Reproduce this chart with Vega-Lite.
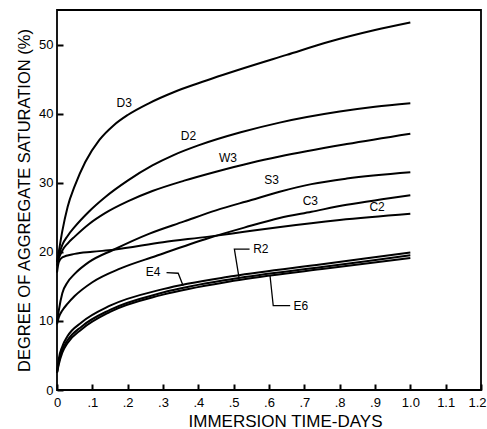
{
  "$schema": "https://vega.github.io/schema/vega-lite/v6.json",
  "width": 424,
  "height": 380,
  "autosize": {"type": "none"},
  "padding": {"left": 57, "top": 10, "right": 6, "bottom": 39},
  "background": "white",
  "config": {
    "view": {"stroke": "black", "strokeWidth": 1.8},
    "font": "Liberation Sans"
  },
  "datasets": {
    "curves": [
      {"s": "D3", "t": 0, "v": 18.5}, {"s": "D3", "t": 0.005, "v": 20}, {"s": "D3", "t": 0.015, "v": 23}, {"s": "D3", "t": 0.03, "v": 26.5}, {"s": "D3", "t": 0.05, "v": 29.5}, {"s": "D3", "t": 0.08, "v": 33}, {"s": "D3", "t": 0.12, "v": 36.2}, {"s": "D3", "t": 0.16, "v": 38.3}, {"s": "D3", "t": 0.2, "v": 39.8}, {"s": "D3", "t": 0.26, "v": 41.5}, {"s": "D3", "t": 0.33, "v": 43.1}, {"s": "D3", "t": 0.4, "v": 44.4}, {"s": "D3", "t": 0.53, "v": 46.6}, {"s": "D3", "t": 0.65, "v": 48.5}, {"s": "D3", "t": 0.77, "v": 50.4}, {"s": "D3", "t": 0.9, "v": 52.1}, {"s": "D3", "t": 1.0, "v": 53.2},
      {"s": "D2", "t": 0, "v": 18.5}, {"s": "D2", "t": 0.005, "v": 19.5}, {"s": "D2", "t": 0.015, "v": 21}, {"s": "D2", "t": 0.03, "v": 22.3}, {"s": "D2", "t": 0.05, "v": 23.6}, {"s": "D2", "t": 0.09, "v": 25.8}, {"s": "D2", "t": 0.136, "v": 27.9}, {"s": "D2", "t": 0.2, "v": 30.3}, {"s": "D2", "t": 0.27, "v": 32.5}, {"s": "D2", "t": 0.33, "v": 34}, {"s": "D2", "t": 0.4, "v": 35.4}, {"s": "D2", "t": 0.52, "v": 37.3}, {"s": "D2", "t": 0.63, "v": 38.7}, {"s": "D2", "t": 0.8, "v": 40.3}, {"s": "D2", "t": 0.9, "v": 41}, {"s": "D2", "t": 1.0, "v": 41.5},
      {"s": "W3", "t": 0, "v": 18}, {"s": "W3", "t": 0.005, "v": 19}, {"s": "W3", "t": 0.015, "v": 20.2}, {"s": "W3", "t": 0.03, "v": 21.2}, {"s": "W3", "t": 0.05, "v": 22.2}, {"s": "W3", "t": 0.09, "v": 24}, {"s": "W3", "t": 0.136, "v": 25.6}, {"s": "W3", "t": 0.2, "v": 27.3}, {"s": "W3", "t": 0.27, "v": 28.8}, {"s": "W3", "t": 0.36, "v": 30.3}, {"s": "W3", "t": 0.45, "v": 31.6}, {"s": "W3", "t": 0.55, "v": 32.9}, {"s": "W3", "t": 0.63, "v": 33.8}, {"s": "W3", "t": 0.82, "v": 35.6}, {"s": "W3", "t": 1.0, "v": 37.1},
      {"s": "S3", "t": 0, "v": 9.8}, {"s": "S3", "t": 0.005, "v": 11.5}, {"s": "S3", "t": 0.015, "v": 14}, {"s": "S3", "t": 0.03, "v": 15.6}, {"s": "S3", "t": 0.05, "v": 16.8}, {"s": "S3", "t": 0.09, "v": 18.5}, {"s": "S3", "t": 0.16, "v": 20.3}, {"s": "S3", "t": 0.26, "v": 22.6}, {"s": "S3", "t": 0.36, "v": 24.4}, {"s": "S3", "t": 0.45, "v": 26}, {"s": "S3", "t": 0.55, "v": 27.5}, {"s": "S3", "t": 0.63, "v": 28.7}, {"s": "S3", "t": 0.72, "v": 29.8}, {"s": "S3", "t": 0.82, "v": 30.6}, {"s": "S3", "t": 1.0, "v": 31.5},
      {"s": "C3", "t": 0, "v": 9.5}, {"s": "C3", "t": 0.005, "v": 10.5}, {"s": "C3", "t": 0.015, "v": 11.5}, {"s": "C3", "t": 0.03, "v": 12.5}, {"s": "C3", "t": 0.05, "v": 13.6}, {"s": "C3", "t": 0.1, "v": 15.6}, {"s": "C3", "t": 0.18, "v": 17.6}, {"s": "C3", "t": 0.28, "v": 19.4}, {"s": "C3", "t": 0.43, "v": 22}, {"s": "C3", "t": 0.53, "v": 23.5}, {"s": "C3", "t": 0.63, "v": 24.9}, {"s": "C3", "t": 0.72, "v": 25.8}, {"s": "C3", "t": 0.82, "v": 26.8}, {"s": "C3", "t": 0.92, "v": 27.6}, {"s": "C3", "t": 1.0, "v": 28.2},
      {"s": "C2", "t": 0, "v": 17}, {"s": "C2", "t": 0.005, "v": 18.5}, {"s": "C2", "t": 0.015, "v": 19.2}, {"s": "C2", "t": 0.05, "v": 19.7}, {"s": "C2", "t": 0.1, "v": 20}, {"s": "C2", "t": 0.16, "v": 20.3}, {"s": "C2", "t": 0.3, "v": 21.4}, {"s": "C2", "t": 0.43, "v": 22.2}, {"s": "C2", "t": 0.53, "v": 22.9}, {"s": "C2", "t": 0.632, "v": 23.6}, {"s": "C2", "t": 0.8, "v": 24.6}, {"s": "C2", "t": 1.0, "v": 25.5},
      {"s": "E4", "t": 0, "v": 2.5}, {"s": "E4", "t": 0.005, "v": 4.5}, {"s": "E4", "t": 0.015, "v": 6.3}, {"s": "E4", "t": 0.03, "v": 7.8}, {"s": "E4", "t": 0.07, "v": 9.8}, {"s": "E4", "t": 0.15, "v": 12.2}, {"s": "E4", "t": 0.3, "v": 14.6}, {"s": "E4", "t": 0.5, "v": 16.5}, {"s": "E4", "t": 0.75, "v": 18.2}, {"s": "E4", "t": 1.0, "v": 19.9},
      {"s": "R2", "t": 0, "v": 2.5}, {"s": "R2", "t": 0.005, "v": 4}, {"s": "R2", "t": 0.015, "v": 5.8}, {"s": "R2", "t": 0.03, "v": 7.2}, {"s": "R2", "t": 0.07, "v": 9.2}, {"s": "R2", "t": 0.15, "v": 11.6}, {"s": "R2", "t": 0.3, "v": 14.1}, {"s": "R2", "t": 0.5, "v": 16.1}, {"s": "R2", "t": 0.75, "v": 17.8}, {"s": "R2", "t": 1.0, "v": 19.5},
      {"s": "E6", "t": 0, "v": 2.5}, {"s": "E6", "t": 0.005, "v": 3.7}, {"s": "E6", "t": 0.015, "v": 5.4}, {"s": "E6", "t": 0.03, "v": 6.8}, {"s": "E6", "t": 0.07, "v": 8.8}, {"s": "E6", "t": 0.15, "v": 11.3}, {"s": "E6", "t": 0.3, "v": 13.8}, {"s": "E6", "t": 0.5, "v": 15.8}, {"s": "E6", "t": 0.75, "v": 17.5}, {"s": "E6", "t": 1.0, "v": 19.1}
    ],
    "leaders": [
      {"id": "E4", "o": 1, "t": 0.31, "v": 17.0}, {"id": "E4", "o": 2, "t": 0.343, "v": 16.9}, {"id": "E4", "o": 3, "t": 0.357, "v": 15.1},
      {"id": "R2", "o": 1, "t": 0.545, "v": 20.4}, {"id": "R2", "o": 2, "t": 0.502, "v": 20.4}, {"id": "R2", "o": 3, "t": 0.515, "v": 16.3},
      {"id": "E6", "o": 1, "t": 0.66, "v": 12.2}, {"id": "E6", "o": 2, "t": 0.612, "v": 12.2}, {"id": "E6", "o": 3, "t": 0.603, "v": 16.5}
    ],
    "labels": [
      {"name": "D3", "t": 0.19, "v": 41.6},
      {"name": "D2", "t": 0.372, "v": 36.8},
      {"name": "W3", "t": 0.484, "v": 33.6},
      {"name": "S3", "t": 0.607, "v": 30.4},
      {"name": "C3", "t": 0.717, "v": 27.3},
      {"name": "C2", "t": 0.906, "v": 26.5},
      {"name": "R2", "t": 0.577, "v": 20.4},
      {"name": "E4", "t": 0.272, "v": 17.1},
      {"name": "E6", "t": 0.69, "v": 12.1}
    ]
  },
  "encoding": {
    "x": {
      "field": "t", "type": "quantitative",
      "scale": {"domain": [0, 1.2], "nice": false, "zero": false},
      "axis": {
        "title": "IMMERSION TIME-DAYS",
        "values": [0, 0.1, 0.2, 0.3, 0.4, 0.5, 0.6, 0.7, 0.8, 0.9, 1.0, 1.1, 1.2],
        "labelExpr": "datum.value == 0 ? '0' : (datum.value < 0.95 ? replace(format(datum.value, '.1f'), '0.', '.') : format(datum.value, '.1f'))",
        "labelOverlap": false, "labelFlush": false,
        "labelAlign": {"condition": {"test": "datum.value > 1.15", "value": "right"}, "value": "center"},
        "labelOffset": {"condition": {"test": "datum.value > 1.15", "value": 5}, "value": 0},
        "grid": false, "zindex": 2, "domain": false, "offset": -6,
        "ticks": true, "tickSize": 6, "tickWidth": 2, "tickColor": "black",
        "labelPadding": 6, "labelFontSize": 13, "labelColor": "black",
        "titleFontSize": 17, "titleFontWeight": "normal", "titleColor": "black",
        "titlePadding": 4, "titleX": 228
      }
    },
    "y": {
      "field": "v", "type": "quantitative",
      "scale": {"domain": [0, 55], "nice": false},
      "axis": {
        "title": "DEGREE OF AGGREGATE SATURATION (%)",
        "values": [0, 10, 20, 30, 40, 50],
        "labelOverlap": false,
        "grid": false, "zindex": 2, "domain": false, "offset": -6,
        "ticks": true, "tickSize": 6, "tickWidth": 2, "tickColor": "black",
        "labelPadding": 4, "labelFontSize": 13, "labelColor": "black",
        "titleFontSize": 16.5, "titleFontWeight": "normal", "titleColor": "black",
        "titlePadding": 6
      }
    }
  },
  "layer": [
    {
      "data": {"name": "curves"},
      "mark": {"type": "line", "color": "black", "strokeWidth": 2, "interpolate": "monotone"},
      "encoding": {
        "detail": {"field": "s"}
      }
    },
    {
      "data": {"name": "leaders"},
      "mark": {"type": "line", "color": "black", "strokeWidth": 1.3},
      "encoding": {
        "detail": {"field": "id"},
        "order": {"field": "o"}
      }
    },
    {
      "data": {"name": "labels"},
      "mark": {"type": "text", "color": "black", "fontSize": 12, "font": "Liberation Sans", "align": "center", "baseline": "middle"},
      "encoding": {
        "text": {"field": "name"}
      }
    }
  ]
}
